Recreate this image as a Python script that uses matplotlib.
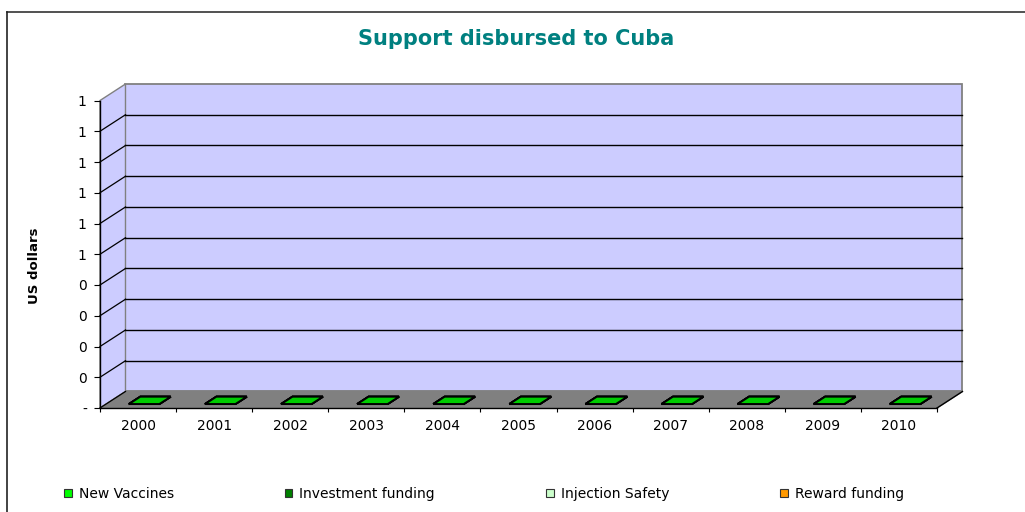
import numpy as np
import matplotlib
matplotlib.use("Agg")
import matplotlib.pyplot as plt
from matplotlib.patches import Polygon, Patch
from matplotlib.lines import Line2D
from matplotlib.colors import to_rgb

# --- data ---
years = ["2000", "2001", "2002", "2003", "2004", "2005",
         "2006", "2007", "2008", "2009", "2010"]
new_vaccines = [0, 0, 0, 0, 0, 0, 0, 0, 0, 0, 0]
investment_funding = [0, 0, 0, 0, 0, 0, 0, 0, 0, 0, 0]
injection_safety = [0, 0, 0, 0, 0, 0, 0, 0, 0, 0, 0]
reward_funding = [0, 0, 0, 0, 0, 0, 0, 0, 0, 0, 0]
series_names = ["New Vaccines", "Investment funding", "Injection Safety", "Reward funding"]
y_ticks = [0, 0.1, 0.2, 0.3, 0.4, 0.5, 0.6, 0.7, 0.8, 0.9, 1.0]

series = [new_vaccines, investment_funding, injection_safety, reward_funding]
colors = ["#00FF00", "#008000", "#CCFFCC", "#FF9900"]

W, H = 1025, 512
fig = plt.figure(figsize=(W / 100, H / 100), dpi=100)

# front plane of the 3d box
ax = fig.add_axes([100 / W, 1 - 408 / H, 837 / W, 307.5 / H])
n = len(years)
x = np.arange(n)
x0, x1 = -0.5, n - 0.5
ax.set_xlim(x0, x1)
ax.set_ylim(0, 1)
ax.patch.set_visible(False)

# depth of the box in data units
dx, dy = 0.335, 0.0537

wall = "#CCCCFF"
ax.add_patch(Polygon([(x0 + dx, dy), (x1 + dx, dy), (x1 + dx, 1 + dy), (x0 + dx, 1 + dy)],
                     closed=True, fc=wall, ec="#808080", lw=1.3, clip_on=False, zorder=1))
ax.add_patch(Polygon([(x0, 0), (x0 + dx, dy), (x0 + dx, 1 + dy), (x0, 1)],
                     closed=True, fc=wall, ec="#808080", lw=1.0, clip_on=False, zorder=1))
ax.add_patch(Polygon([(x0, 0), (x1, 0), (x1 + dx, dy), (x0 + dx, dy)],
                     closed=True, fc="#808080", ec="#808080", lw=1.0, clip_on=False, zorder=1))
ax.plot([x1, x1 + dx], [0, dy], color="black", lw=1.0, clip_on=False, zorder=2)

# gridlines on back wall + side wall
for v in y_ticks[1:-1]:
    ax.plot([x0 + dx, x1 + dx], [v + dy, v + dy], color="black", lw=1.0,
            clip_on=False, zorder=2)
for v in y_ticks[:-1]:
    ax.plot([x0, x0 + dx], [v, v + dy], color="black", lw=0.9,
            clip_on=False, zorder=2)

# bars (stacked, drawn as front face + top face)
bw = 0.4
z0, z1 = 0.24, 0.685
cum = np.cumsum(np.array(series, dtype=float), axis=0)
for k in reversed(range(len(series))):
    vals = np.array(series[k], dtype=float)
    base = cum[k] - vals
    ax.bar(x + z0 * dx, vals, bw, bottom=base + z0 * dy, color=colors[k],
           edgecolor="black", lw=1.2, zorder=5, clip_on=False)
    shade = tuple(c * 0.8 for c in to_rgb(colors[k]))
    for i in range(n):
        top = cum[k][i]
        xa, xb = x[i] - bw / 2, x[i] + bw / 2
        ax.add_patch(Polygon([(xa + z0 * dx, top + z0 * dy), (xb + z0 * dx, top + z0 * dy),
                              (xb + z1 * dx, top + z1 * dy), (xa + z1 * dx, top + z1 * dy)],
                             closed=True, fc=shade, ec="black", lw=1.4,
                             clip_on=False, zorder=6))

# axes, ticks
for s in ("top", "right"):
    ax.spines[s].set_visible(False)
for s in ("left", "bottom"):
    ax.spines[s].set_color("black")
    ax.spines[s].set_linewidth(1.0)
    ax.spines[s].set_zorder(3)

ylabels = ["-" if v == 0 else str(int(np.floor(v + 0.5))) for v in y_ticks]
ax.set_yticks(y_ticks, ylabels)
ax.tick_params(axis="y", length=4.5, width=0.8, pad=5, labelsize=10, colors="black")
ax.set_xticks(x, years)
ax.set_xticks(np.arange(n + 1) - 0.5, minor=True)
ax.tick_params(axis="x", which="major", length=0, pad=8, labelsize=10)
ax.tick_params(axis="x", which="minor", length=3, width=0.8)

fig.text(34 / W, 1 - 266 / H, "US dollars", rotation=90, fontsize=9.5,
         fontweight="bold", ha="center", va="center")
fig.text(516 / W, 1 - 39 / H, "Support disbursed to Cuba", fontsize=15,
         fontweight="bold", color="#008080", ha="center", va="center")

handles = [Patch(fc=c, ec="#333333", lw=0.8, label=nm) for nm, c in zip(series_names, colors)]
fig.legend(handles=handles, loc="center left", bbox_to_anchor=(64 / W, 1 - 494 / H),
           ncol=4, frameon=False, fontsize=10, handlelength=0.55, handleheight=0.55,
           handletextpad=0.5, columnspacing=8.0, borderpad=0, borderaxespad=0)

# chart border
fig.add_artist(Line2D([7 / W, 1], [1 - 12 / H, 1 - 12 / H], color="#333333", lw=1.2))
fig.add_artist(Line2D([7 / W, 7 / W], [0, 1 - 12 / H], color="#222222", lw=1.2))

fig.savefig("out.png", dpi=100)
